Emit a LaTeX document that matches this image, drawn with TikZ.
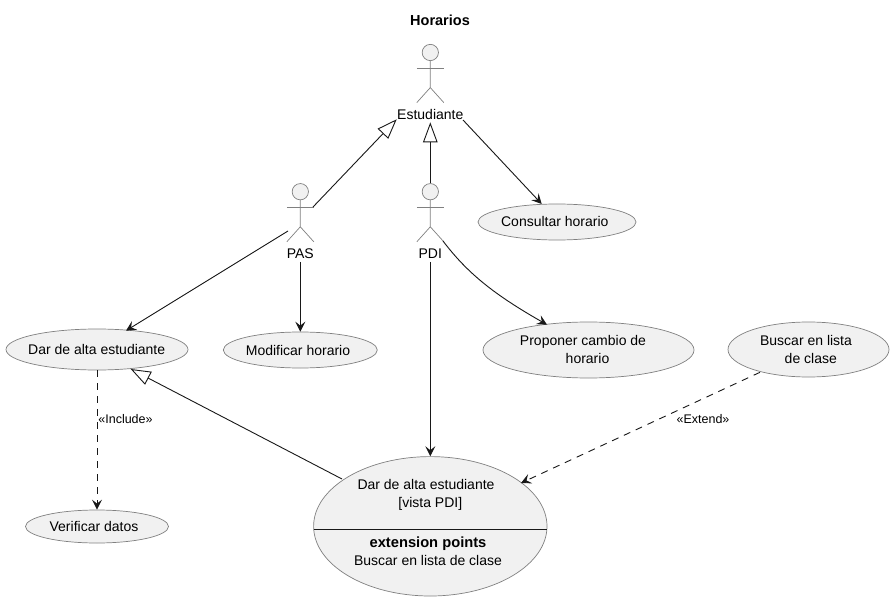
\documentclass[tikz,border=0pt]{standalone}
\usepackage{fontspec}
\setmainfont{Liberation Sans}
\usetikzlibrary{shapes.geometric,arrows.meta,calc}
\definecolor{uc}{HTML}{F1F1F1}
\definecolor{edge}{HTML}{181818}
\tikzset{
 x=1pt,y=-1pt,
 usecase/.style={ellipse,draw=edge!55,fill=uc,line width=0.7pt,inner sep=0pt},
 actorhead/.style={circle,draw=edge!55,fill=uc,line width=0.7pt,inner sep=0pt,minimum size=16.3pt},
 actorbody/.style={draw=edge!55,line width=0.7pt},
 actorlabel/.style={font=\fontsize{14}{16}\selectfont,inner sep=0pt},
 txt/.style={font=\fontsize{14}{17.7}\selectfont,inner sep=0pt,align=center},
 smalltxt/.style={font=\fontsize{12.5}{14}\selectfont,inner sep=0pt},
 conn/.style={edge,line width=0.9pt,-{Stealth[length=10pt,width=10pt,inset=4pt]}},
 dconn/.style={conn,dash pattern=on 7pt off 6pt},
 gen/.style={edge,line width=0.9pt,-{Triangle[open,length=20pt,width=14.5pt,line width=0.9pt,fill=white]}},
}
\newcommand{\actorfig}[3]{% name, x, head y
 \node[actorhead] (#1) at (#2,#3) {};
 \draw[actorbody] (#1.south) -- ++(0,26.6) coordinate (#1hip) -- ++(-13.5,15);
 \draw[actorbody] (#1hip) -- ++(13.5,15);
 \draw[actorbody] ($(#1.south)+(-13.5,7.6)$) -- ++(27,0);
}
\begin{document}
\begin{tikzpicture}
\useasboundingbox (0,0) rectangle (893,601);
\fill[white] (0,0) rectangle (893,601);
\node[font=\fontsize{14.5}{16}\selectfont\bfseries,inner sep=0pt] (title) at (440,20.5) {Horarios};

\actorfig{est}{430.3}{52.5}
\actorfig{pas}{300.3}{191.7}
\actorfig{pdi}{430.3}{191.7}
\node[actorlabel] (estl) at (430.3,114) {Estudiante};
\node[actorlabel] (pasl) at (300.3,253.5) {PAS};
\node[actorlabel] (pdil) at (430.3,253.5) {PDI};

\node[usecase,minimum width=158pt,minimum height=36pt] (cons) at (557,222) {};
\node[usecase,minimum width=182pt,minimum height=41pt] (alta) at (97,349.5) {};
\node[usecase,minimum width=154pt,minimum height=36pt] (modi) at (300.3,350) {};
\node[usecase,minimum width=211pt,minimum height=56pt] (prop) at (588.5,350) {};
\node[usecase,minimum width=161pt,minimum height=55pt] (busc) at (808.5,349.5) {};
\node[usecase,minimum width=143pt,minimum height=33pt] (veri) at (97,526.5) {};
\node[usecase,minimum width=233.4pt,minimum height=139.4pt] (big) at (430.3,526.3) {};
\draw[edge,line width=0.9pt] (313.7,529.3) -- (546.8,529.3);

\node[txt] (const) at (554.8,221.5) {Consultar horario};
\node[txt] (altat) at (96.7,349) {Dar de alta estudiante};
\node[txt] (modit) at (298,350) {Modificar horario};
\node[txt] (propt) at (583,349.5) {Proponer cambio de\\\hspace*{9pt}horario};
\node[txt] (busct) at (806,349.5) {Buscar en lista\\\hspace*{9.6pt}de clase};
\node[txt] (verit) at (94,526) {Verificar datos};
\node[txt] (bigt) at (426,495) {Dar de alta estudiante\\\hspace*{8.6pt}[vista PDI]};
\node[txt] (bigb) at (428,551.5) {{\fontsize{14.7}{17.7}\selectfont\bfseries extension points}\\Buscar en lista de clase};

\coordinate (pasarm) at (313,207);
\coordinate (estin) at (396.7,119.3);
\coordinate (estin2) at (430.3,122.3);
\coordinate (estout) at (463,120);
\coordinate (constip) at (541.7,204);
\coordinate (pasout) at (288,231);
\coordinate (altatip) at (126,330.7);
\coordinate (pasbot) at (300.3,262);
\coordinate (pdibot) at (430.3,262);
\coordinate (pdifoot) at (443,241);
\coordinate (proptip) at (547,324.7);
\coordinate (biggen) at (342,479);
\coordinate (altagen) at (130.7,369);
\coordinate (buscout) at (760,372.3);
\coordinate (bigtip) at (521,483);

\draw[gen] (pasarm) -- (estin);
\draw[gen] (pdi.north) -- (estin2);
\draw[conn] (estout) -- (constip);
\draw[conn] (pasout) -- (altatip);
\draw[conn] (pasbot) -- (modi.north);
\draw[conn] (pdifoot) .. controls (468,274) and (495,295) .. (proptip);
\draw[conn] (pdibot) -- (big.north);
\draw[gen] (biggen) -- (altagen);
\draw[dconn] (alta.south) -- (veri.north);
\draw[dconn] (buscout) -- (bigtip);
\node[smalltxt] (inc) at (125.5,419) {«Include»};
\node[smalltxt] (ext) at (703,419) {«Extend»};
\end{tikzpicture}
\end{document}
